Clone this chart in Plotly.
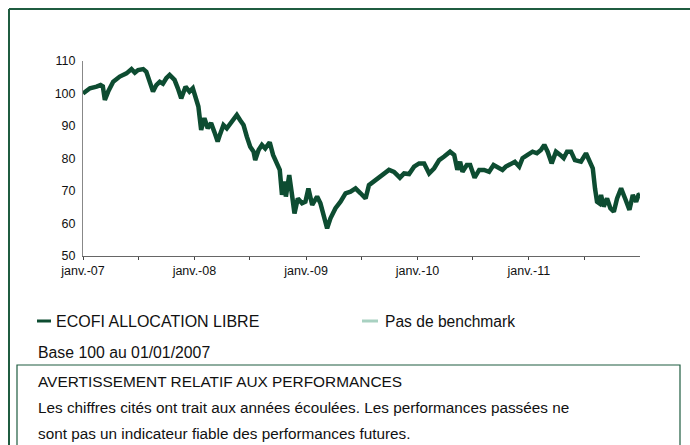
import pandas as pd
import plotly.graph_objects as go

# Years elapsed since 01/01/2007 and fund values (base 100)
years_elapsed = [
    0.000, 0.030, 0.062, 0.122, 0.158, 0.178, 0.196, 0.226, 0.271, 0.330,
    0.390, 0.435, 0.465, 0.494, 0.540, 0.568, 0.598, 0.628, 0.658, 0.688,
    0.717, 0.747, 0.777, 0.821, 0.851, 0.881, 0.920, 0.955, 0.985, 1.015,
    1.035, 1.060, 1.089, 1.119, 1.149, 1.178, 1.208, 1.230, 1.260, 1.290,
    1.320, 1.350, 1.380, 1.410, 1.440, 1.470, 1.500, 1.530, 1.545, 1.575,
    1.605, 1.635, 1.675, 1.705, 1.735, 1.765, 1.785, 1.807, 1.820, 1.850,
    1.875, 1.897, 1.927, 1.965, 1.995, 2.022, 2.056, 2.100, 2.130, 2.160,
    2.190, 2.220, 2.265, 2.310, 2.355, 2.400, 2.445, 2.490, 2.535, 2.565,
    2.610, 2.655, 2.700, 2.745, 2.790, 2.843, 2.880, 2.925, 2.970, 3.015,
    3.060, 3.105, 3.150, 3.195, 3.240, 3.293, 3.330, 3.358, 3.383, 3.404,
    3.443, 3.473, 3.513, 3.554, 3.598, 3.643, 3.683, 3.718, 3.763, 3.793,
    3.838, 3.874, 3.913, 3.943, 3.988, 4.033, 4.072, 4.108, 4.138, 4.168,
    4.204, 4.243, 4.281, 4.312, 4.342, 4.378, 4.413, 4.467, 4.512, 4.542,
    4.573, 4.593, 4.611, 4.632, 4.647, 4.671, 4.701, 4.731, 4.762, 4.791,
    4.827, 4.863, 4.902, 4.932, 4.962, 4.983, 4.997,
]
fund_values = [
    100.0, 100.8, 101.6, 102.1, 102.6, 102.2, 98.0, 100.6, 103.6, 105.2,
    106.2, 107.5, 106.4, 107.2, 107.5, 106.7, 103.6, 100.6, 102.6, 103.6,
    103.0, 104.7, 105.7, 104.2, 101.6, 98.5, 102.1, 100.6, 101.6, 98.5,
    96.0, 88.8, 92.4, 89.3, 90.9, 88.2, 85.2, 87.5, 90.3, 89.3,
    90.8, 92.4, 93.4, 91.8, 90.3, 86.7, 83.6, 82.1, 79.5, 82.6,
    84.2, 83.1, 85.0, 81.1, 78.5, 76.5, 68.8, 72.9, 68.3, 74.9,
    68.8, 63.1, 67.7, 66.2, 66.7, 70.8, 65.7, 68.3, 66.2, 62.6,
    58.5, 61.6, 64.7, 66.7, 69.3, 69.8, 70.8, 69.3, 67.7, 71.8,
    72.9, 73.9, 75.4, 76.5, 75.9, 74.1, 75.4, 75.2, 77.5, 78.5,
    78.5, 75.4, 77.0, 79.5, 80.6, 82.1, 81.1, 76.5, 79.0, 75.9,
    78.0, 78.0, 74.1, 76.5, 76.5, 75.9, 78.0, 77.5, 76.5, 77.5,
    78.5, 79.0, 77.5, 80.1, 81.1, 82.1, 81.6, 82.6, 84.2, 82.1,
    78.5, 82.1, 81.1, 80.1, 82.1, 82.1, 79.5, 79.0, 81.6, 79.5,
    77.0, 70.8, 66.7, 66.2, 68.8, 65.2, 67.7, 64.7, 63.6, 67.7,
    70.8, 67.7, 64.2, 68.8, 66.7, 68.8, 69.0,
]

tick_dates = ["2007-01-01", "2007-07-01", "2008-01-01", "2008-07-01", "2009-01-01",
              "2009-07-01", "2010-01-01", "2010-07-01", "2011-01-01", "2011-07-01"]
tick_labels = ["janv.-07", "", "janv.-08", "", "janv.-09", "", "janv.-10", "", "janv.-11", ""]
y_ticks = [50, 60, 70, 80, 90, 100, 110]

series_name = "ECOFI ALLOCATION LIBRE"
benchmark_name = "Pas de benchmark"
base_text = "Base 100 au 01/01/2007"
warning_lines = [
    "AVERTISSEMENT RELATIF AUX PERFORMANCES",
    "Les chiffres cités ont trait aux années écoulées. Les performances passées ne",
    "sont pas un indicateur fiable des performances futures.",
]

base = pd.Timestamp("2007-01-01")
dates = [base + pd.Timedelta(days=t * 365.25) for t in years_elapsed]

W, H = 690, 445
L, R, T, B = 83, 640, 61, 256
FONT = "Liberation Sans, Arial, sans-serif"
DARK = "#0d4c31"
FRAME = "#1f5c40"


def px(x):
    return (x - L) / (R - L)


def py(y):
    return (B - y) / (B - T)


fig = go.Figure()
fig.add_trace(go.Scatter(x=dates, y=fund_values, mode="lines",
                         line=dict(color=DARK, width=4.5), name=series_name,
                         showlegend=False, hoverinfo="skip"))

fig.update_layout(
    width=W, height=H,
    margin=dict(l=L, r=W - R, t=T, b=H - B, pad=0),
    paper_bgcolor="white", plot_bgcolor="white",
    font=dict(family=FONT, size=12, color="#111"),
    showlegend=False,
    xaxis=dict(range=["2007-01-01", "2011-12-31"], tickvals=tick_dates, ticktext=tick_labels,
               ticks="outside", ticklen=3, tickcolor="#444", showgrid=False, zeroline=False,
               showline=True, linecolor="#666", linewidth=1, tickfont=dict(size=12.5)),
    yaxis=dict(range=[50, 110], tickvals=y_ticks, ticks="", showgrid=False, zeroline=False,
               showline=True, linecolor="#888", linewidth=1, tickfont=dict(size=12.5),
               ticklabelstandoff=4),
)

shapes = []
# outer frame (top and left)
shapes.append(dict(type="line", xref="paper", yref="paper", x0=px(9), x1=px(700), y0=py(9), y1=py(9),
                   line=dict(color=FRAME, width=2)))
shapes.append(dict(type="line", xref="paper", yref="paper", x0=px(9), x1=px(9), y0=py(9), y1=py(450),
                   line=dict(color=FRAME, width=2)))
# warning box
shapes.append(dict(type="rect", xref="paper", yref="paper", x0=px(17), x1=px(680), y0=py(365), y1=py(460),
                   line=dict(color="#1f5c40", width=1.2)))
# legend samples
shapes.append(dict(type="line", xref="paper", yref="paper", x0=px(37), x1=px(51), y0=py(321), y1=py(321),
                   line=dict(color=DARK, width=3)))
shapes.append(dict(type="line", xref="paper", yref="paper", x0=px(362), x1=px(378), y0=py(321), y1=py(321),
                   line=dict(color="#a8d1c1", width=3)))

anns = []
def text(x, y, s, size=15.4):
    anns.append(dict(xref="paper", yref="paper", x=px(x), y=py(y), text=s, showarrow=False,
                     xanchor="left", yanchor="middle", font=dict(size=size, color="#111", family=FONT)))

text(54, 321, series_name, 16)
text(383, 321, benchmark_name, 15.6)
text(36, 352, base_text, 15.8)
text(36, 381, warning_lines[0], 15.4)
text(36, 407, warning_lines[1], 15.3)
text(36, 433, warning_lines[2], 15.3)

fig.update_layout(shapes=shapes, annotations=anns)
fig.write_html("out.html", config={"displayModeBar": False, "staticPlot": True},
               post_script="document.body.style.margin='0';document.body.style.overflow='hidden';")
